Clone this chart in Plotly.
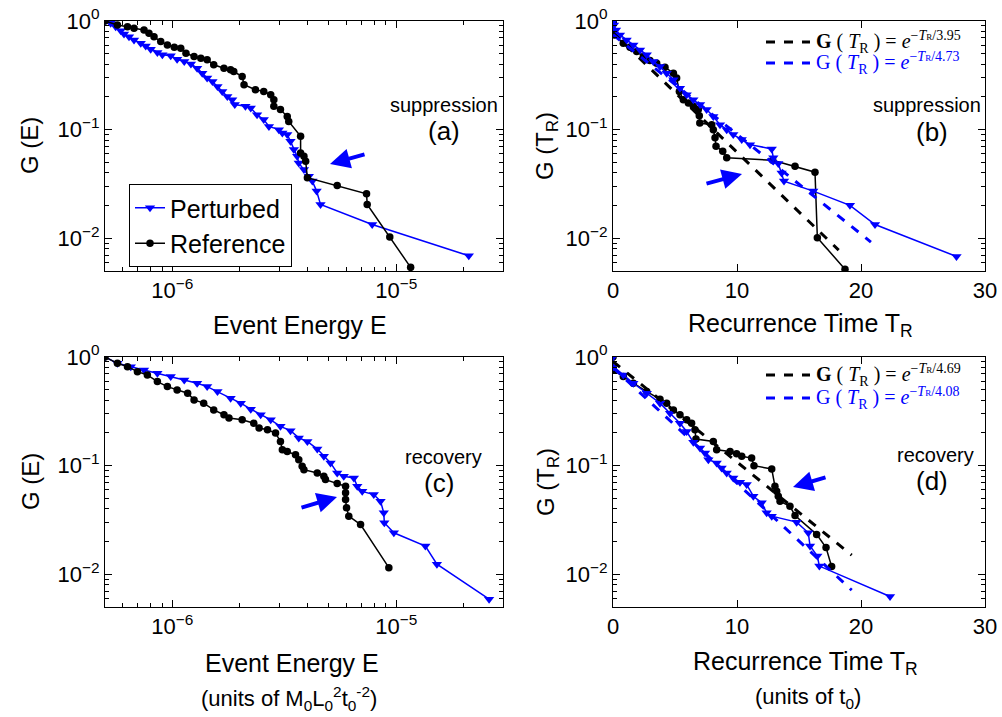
import numpy as np
import plotly.graph_objects as go

# ---------------- data ----------------
# (a) suppression, event energy CCDF
E_a_pert = [5.0e-7, 5.3e-7, 5.58e-7, 5.88e-7, 6.08e-7, 6.4e-7, 6.74e-7, 7.22e-7, 7.6e-7, 8.0e-7,
            8.57e-7, 9.02e-7, 9.83e-7, 1.05e-6, 1.13e-6, 1.21e-6, 1.29e-6, 1.36e-6, 1.43e-6, 1.51e-6,
            1.59e-6, 1.67e-6, 1.76e-6, 1.85e-6, 1.9e-6, 2.12e-6, 2.24e-6, 2.39e-6, 2.56e-6, 2.7e-6,
            2.99e-6, 3.1e-6, 3.26e-6, 3.37e-6, 3.49e-6, 3.61e-6, 3.67e-6, 3.87e-6, 4.07e-6, 4.22e-6,
            4.41e-6, 4.59e-6, 7.81e-6, 2.11e-5]
G_a_pert = [1.0, 0.953, 0.887, 0.815, 0.760, 0.718, 0.669, 0.624, 0.590, 0.550,
            0.512, 0.488, 0.478, 0.445, 0.424, 0.403, 0.368, 0.331, 0.298, 0.277,
            0.250, 0.225, 0.202, 0.188, 0.170, 0.164, 0.158, 0.137, 0.124, 0.107,
            0.100, 0.0932, 0.090, 0.078, 0.0656, 0.0569, 0.0494, 0.043, 0.0373, 0.0336,
            0.0272, 0.0205, 0.0134, 0.0069]
E_a_ref = [5.0e-7, 5.68e-7, 6.3e-7, 6.74e-7, 7.47e-7, 7.86e-7, 8.28e-7, 8.87e-7, 9.5e-7, 1.02e-6,
           1.09e-6, 1.15e-6, 1.25e-6, 1.34e-6, 1.43e-6, 1.53e-6, 1.7e-6, 1.82e-6, 1.88e-6, 2.05e-6,
           2.09e-6, 2.35e-6, 2.56e-6, 2.75e-6, 2.84e-6, 2.84e-6, 3.04e-6, 3.26e-6, 3.31e-6, 3.74e-6,
           3.74e-6, 3.87e-6, 3.94e-6, 4.01e-6, 5.45e-6, 7.37e-6, 7.42e-6, 9.36e-6, 1.16e-5]
G_a_ref = [1.0, 0.919, 0.887, 0.857, 0.827, 0.771, 0.718, 0.646, 0.602, 0.573,
           0.561, 0.505, 0.471, 0.454, 0.439, 0.395, 0.368, 0.355, 0.343, 0.308,
           0.259, 0.233, 0.225, 0.210, 0.188, 0.164, 0.153, 0.132, 0.119, 0.0868,
           0.0611, 0.0569, 0.0512, 0.0361, 0.0306, 0.0257, 0.0205, 0.0103, 0.0054]

# (b) suppression, recurrence time CCDF
T_b_pert = [0.03, 0.08, 0.24, 0.56, 1.10, 1.64, 2.18, 2.72, 3.25, 3.79, 4.33, 4.87, 5.40, 5.94,
            6.48, 7.02, 7.55, 8.09, 8.63, 9.17, 9.70, 10.38, 11.05, 12.80, 12.93, 13.33, 13.60,
            13.79, 16.15, 19.11, 21.13, 27.7]
G_b_pert = [1.0, 0.919, 0.827, 0.744, 0.669, 0.602, 0.542, 0.488, 0.424, 0.381, 0.331, 0.288,
            0.241, 0.210, 0.188, 0.170, 0.153, 0.132, 0.111, 0.100, 0.090, 0.081, 0.0728, 0.0665,
            0.055, 0.0488, 0.040, 0.0336, 0.0272, 0.0201, 0.0134, 0.0068]
T_b_ref = [0.0, 0.03, 0.11, 0.83, 1.37, 1.91, 2.45, 2.98, 3.52, 4.19, 4.87, 5.13, 5.35, 5.67,
           6.08, 6.48, 6.88, 6.96, 7.0, 7.96, 8.09, 8.23, 8.31, 8.85, 9.17, 12.88, 14.68, 16.29,
           16.48, 18.71]
G_b_ref = [1.0, 0.953, 0.744, 0.624, 0.573, 0.523, 0.471, 0.432, 0.409, 0.376, 0.331, 0.298,
           0.225, 0.188, 0.176, 0.164, 0.153, 0.134, 0.115, 0.111, 0.100, 0.084, 0.0703, 0.0632,
           0.055, 0.0523, 0.0461, 0.0406, 0.0101, 0.0052]

# (c) recovery, event energy CCDF
E_c_pert = [5.0e-7, 5.68e-7, 6.52e-7, 7.47e-7, 8.57e-7, 9.83e-7, 1.13e-6, 1.29e-6, 1.43e-6, 1.59e-6,
            1.82e-6, 2.02e-6, 2.24e-6, 2.48e-6, 2.75e-6, 3.04e-6, 3.37e-6, 3.67e-6, 4.01e-6, 4.44e-6,
            4.75e-6, 5.09e-6, 5.45e-6, 5.83e-6, 6.47e-6, 6.7e-6, 7.05e-6, 7.94e-6, 8.51e-6, 8.8e-6,
            8.85e-6, 9.76e-6, 1.35e-5, 1.52e-5, 2.6e-5]
G_c_pert = [1.0, 0.875, 0.815, 0.760, 0.709, 0.660, 0.615, 0.573, 0.534, 0.481,
            0.418, 0.376, 0.331, 0.294, 0.264, 0.230, 0.210, 0.180, 0.167, 0.142,
            0.122, 0.106, 0.0857, 0.0798, 0.0771, 0.0646, 0.058, 0.0542, 0.0471, 0.0368,
            0.0298, 0.0241, 0.0182, 0.0124, 0.0059]
E_c_ref = [5.0e-7, 5.68e-7, 6.3e-7, 6.98e-7, 7.73e-7, 8.57e-7, 9.5e-7, 1.05e-6, 1.17e-6, 1.25e-6,
           1.38e-6, 1.53e-6, 1.7e-6, 1.79e-6, 2.05e-6, 2.31e-6, 2.44e-6, 2.66e-6, 2.89e-6, 3.04e-6,
           3.1e-6, 3.26e-6, 3.55e-6, 3.67e-6, 3.8e-6, 3.87e-6, 4.44e-6, 4.75e-6, 4.83e-6, 5.45e-6,
           5.94e-6, 5.94e-6, 5.94e-6, 6.0e-6, 6.14e-6, 6.93e-6, 9.27e-6]
G_c_ref = [1.0, 0.875, 0.815, 0.733, 0.684, 0.594, 0.534, 0.498, 0.464, 0.403,
           0.376, 0.326, 0.294, 0.274, 0.264, 0.246, 0.222, 0.214, 0.1995, 0.167,
           0.140, 0.135, 0.126, 0.1135, 0.0986, 0.0919, 0.0857, 0.0798, 0.0744, 0.0684,
           0.0646, 0.0562, 0.0488, 0.0409, 0.0343, 0.0287, 0.0115]

# (d) recovery, recurrence time CCDF
T_d_pert = [0.0, 0.03, 0.83, 1.64, 2.72, 3.79, 4.60, 5.40, 5.94, 6.48, 7.02, 7.42, 7.69, 8.36,
            8.76, 9.17, 9.70, 10.24, 10.78, 11.32, 11.99, 12.39, 12.80, 14.81, 15.75, 15.89,
            16.48, 16.64, 22.34]
G_d_pert = [1.0, 0.815, 0.684, 0.573, 0.464, 0.376, 0.304, 0.246, 0.206, 0.164, 0.145, 0.131,
            0.1135, 0.106, 0.0953, 0.0857, 0.0771, 0.0703, 0.0669, 0.0523, 0.0455, 0.0368,
            0.0343, 0.0302, 0.0241, 0.0182, 0.0147, 0.0119, 0.00624]
T_d_ref = [0.0, 0.03, 0.83, 1.64, 2.72, 3.79, 4.33, 4.87, 5.40, 5.94, 6.34, 6.61, 6.69, 8.09,
           8.36, 9.44, 9.97, 10.38, 11.18, 11.37, 12.80, 13.06, 13.20, 13.33, 13.47, 14.27,
           14.68, 16.42, 17.18, 17.63]
G_d_ref = [1.0, 0.760, 0.660, 0.573, 0.481, 0.409, 0.376, 0.326, 0.294, 0.264, 0.246, 0.214,
           0.176, 0.167, 0.140, 0.135, 0.129, 0.122, 0.1175, 0.100, 0.0932, 0.0646, 0.058,
           0.0523, 0.0471, 0.0423, 0.0348, 0.0233, 0.0176, 0.0118]

# exponential fits G = A exp(-T/tau)
fit_b = {"ref": dict(tau=3.95, amp=0.78, tmax=18.2), "pert": dict(tau=4.73, amp=0.75, tmax=20.8)}
fit_d = {"ref": dict(tau=4.69, amp=0.91, tmax=19.25), "pert": dict(tau=4.08, amp=0.80, tmax=19.25)}

x_tick_E = [1e-6, 1e-5]
x_tick_E_text = ["10<sup>\u22126</sup>", "10<sup>\u22125</sup>"]
y_tick = [0.01, 0.1, 1]
y_tick_text = ["10<sup>\u22122</sup>", "10<sup>\u22121</sup>", "10<sup>0</sup>"]
x_tick_T = [0, 10, 20, 30]

# ---------------- figure ----------------
W, H = 1002, 717
BLUE = "#0000ff"
FONT = "Liberation Sans"
SERIF = "Liberation Serif"


def px(x):
    return x / W


def py(y):
    return 1 - y / H


fig = go.Figure()


def pert_trace(x, y, xa, ya, show=False):
    return go.Scatter(x=x, y=y, xaxis=xa, yaxis=ya, mode="lines+markers", name="Perturbed",
                      line=dict(color=BLUE, width=1.5),
                      marker=dict(symbol="triangle-down", size=9, color=BLUE),
                      showlegend=show)


def ref_trace(x, y, xa, ya, show=False):
    return go.Scatter(x=x, y=y, xaxis=xa, yaxis=ya, mode="lines+markers", name="Reference",
                      line=dict(color="black", width=1.5),
                      marker=dict(symbol="circle", size=7.5, color="black"),
                      showlegend=show)


# (a)
fig.add_trace(pert_trace(E_a_pert, G_a_pert, "x", "y", True))
fig.add_trace(ref_trace(E_a_ref, G_a_ref, "x", "y", True))
# (b)
fig.add_trace(ref_trace(T_b_ref, G_b_ref, "x2", "y2"))
fig.add_trace(pert_trace(T_b_pert, G_b_pert, "x2", "y2"))
# (c)
fig.add_trace(pert_trace(E_c_pert, G_c_pert, "x3", "y3"))
fig.add_trace(ref_trace(E_c_ref, G_c_ref, "x3", "y3"))
# (d)
fig.add_trace(ref_trace(T_d_ref, G_d_ref, "x4", "y4"))
fig.add_trace(pert_trace(T_d_pert, G_d_pert, "x4", "y4"))

ann = []
shapes = []


def fit_label(tau, bold):
    g = "<b>G</b>" if bold else "G"
    return (f'{g} ( <i>T</i><sub>R</sub> ) = '
            f'<i>e</i><sup>\u2212<i>T</i><span style="font-size:9px">R</span>/{tau:.2f}</sup>')


# fit lines + their (hand placed) legend
for fits, xa, ya, rows in [(fit_b, "x2", "y2", (42, 63)), (fit_d, "x4", "y4", (375, 398))]:
    for (key, color, bold), yrow in zip([("ref", "black", True), ("pert", BLUE, False)], rows):
        f = fits[key]
        t = np.linspace(0, f["tmax"], 60)
        fig.add_trace(go.Scatter(x=t, y=f["amp"] * np.exp(-t / f["tau"]), xaxis=xa, yaxis=ya,
                                 mode="lines", line=dict(color=color, width=3, dash="dash"),
                                 showlegend=False))
        shapes.append(dict(type="line", xref="paper", yref="paper", x0=px(766), x1=px(810),
                           y0=py(yrow), y1=py(yrow),
                           line=dict(color=color, width=3, dash="dash")))
        ann.append(dict(x=px(814), y=py(yrow), xref="paper", yref="paper",
                        text=fit_label(f["tau"], bold), showarrow=False,
                        xanchor="left", yanchor="middle",
                        font=dict(family=SERIF, size=20, color=color)))

minor_E = [k * 10.0 ** e for e in (-7, -6, -5) for k in range(2, 10)]
minor_G = [k * 10.0 ** e for e in (-3, -2, -1) for k in range(2, 10)]

base = dict(showline=True, linecolor="black", linewidth=1, mirror="allticks", ticks="inside",
            ticklen=7, tickcolor="black", showgrid=False, zeroline=False, automargin=False,
            tickfont=dict(family=FONT, size=22, color="black"))

xdom_l = [px(105), px(503)]
xdom_r = [px(613), px(985)]
ydom_t = [py(271), py(21)]
ydom_b = [py(607), py(357)]


def xE(dom, anchor):
    return dict(base, type="log", domain=dom, anchor=anchor,
                range=[np.log10(5e-7), np.log10(3e-5)],
                tickvals=x_tick_E, ticktext=x_tick_E_text,
                minor=dict(ticks="inside", ticklen=4, tickcolor="black", tickvals=minor_E))


def xT(dom, anchor):
    return dict(base, type="linear", domain=dom, anchor=anchor, range=[0, 30],
                tickvals=x_tick_T)


def yG(dom, anchor):
    return dict(base, type="log", domain=dom, anchor=anchor,
                range=[np.log10(0.005), 0], tickvals=y_tick, ticktext=y_tick_text,
                minor=dict(ticks="inside", ticklen=4, tickcolor="black", tickvals=minor_G))


fig.update_layout(
    width=W, height=H, margin=dict(l=0, r=0, t=0, b=0, autoexpand=False),
    paper_bgcolor="white", plot_bgcolor="white",
    font=dict(family=FONT, color="black"),
    xaxis=xE(xdom_l, "y"), yaxis=yG(ydom_t, "x"),
    xaxis2=xT(xdom_r, "y2"), yaxis2=yG(ydom_t, "x2"),
    xaxis3=xE(xdom_l, "y3"), yaxis3=yG(ydom_b, "x3"),
    xaxis4=xT(xdom_r, "y4"), yaxis4=yG(ydom_b, "x4"),
    legend=dict(x=px(129), y=py(184), xanchor="left", yanchor="top", bordercolor="black",
                borderwidth=1, bgcolor="white", font=dict(size=25, family=FONT),
                itemwidth=30, tracegroupgap=0),
    showlegend=True,
)


def text(x, y, s, size=22, angle=0):
    ann.append(dict(x=px(x), y=py(y), xref="paper", yref="paper", text=s, showarrow=False,
                    font=dict(family=FONT, size=size, color="black"), textangle=angle,
                    xanchor="center", yanchor="middle"))


# axis titles
text(30, 146, "G (E)", 24, -90)
text(547, 146, "G (T<sub>R</sub>)", 24, -90)
text(30, 482, "G (E)", 24, -90)
text(547, 482, "G (T<sub>R</sub>)", 24, -90)
text(300, 325, "Event Energy E", 25)
text(800, 325, "Recurrence Time T<sub>R</sub>", 25)
text(292, 663, "Event Energy E", 25)
text(805, 663, "Recurrence Time T<sub>R</sub>", 25)
text(289, 698, "(units of M<sub>0</sub>L<sub>0</sub><sup>2</sup>t<sub>0</sub><sup>-2</sup>)", 22)
text(808, 698, "(units of t<sub>0</sub>)", 22)

# panel labels
text(444, 105, "suppression", 20)
text(444, 131, "(a)", 26)
text(927, 105, "suppression", 20)
text(932, 132, "(b)", 26)
text(443, 457, "recovery", 20)
text(439, 483, "(c)", 26)
text(935, 455, "recovery", 20)
text(932, 481, "(d)", 26)

# blue arrows (tip, tail offset)
for tip, off in [((330, 164), (36, -10)), ((742, 174), (-37, 10)),
                 ((337, 497), (-37, 11)), ((793, 487), (34, -10))]:
    ann.append(dict(x=px(tip[0]), y=py(tip[1]), xref="paper", yref="paper", text="",
                    showarrow=True, ax=off[0], ay=off[1], arrowhead=2, arrowsize=1,
                    arrowwidth=4, arrowcolor=BLUE))

fig.update_layout(annotations=ann, shapes=shapes)
fig.write_html("out.html", config={"displayModeBar": False},
               post_script="document.body.style.margin='0';"
                           "document.body.style.overflow='hidden';")
